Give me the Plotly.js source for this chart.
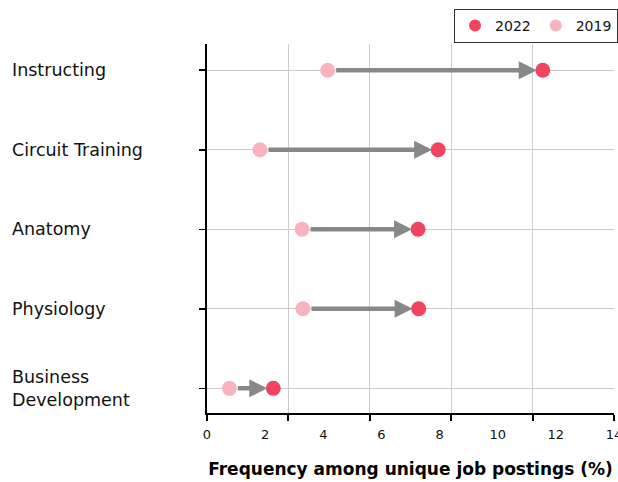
<!DOCTYPE html>
<html>
<head>
<meta charset="utf-8">
<script src="https://cdn.plot.ly/plotly-3.0.1.min.js"></script>
<style>
  html, body { margin: 0; padding: 0; background: #fff; }
  #chart { width: 618px; height: 482px; }
</style>
</head>
<body>
<div id="chart"></div>
<script>
// skills, bottom to top
const skills = ["Business<br>Development", "Physiology", "Anatomy", "Circuit Training", "Instructing"];
const freq2019 = [0.77, 3.30, 3.27, 1.82, 4.15];
const freq2022 = [2.28, 7.28, 7.26, 7.95, 11.55];

// the original draws grid/ticks at 5 even steps but labels 0..14 every 2
const gridVals = [0, 2.8, 5.6, 8.4, 11.2, 14];
const labelVals = [0, 2, 4, 6, 8, 10, 12, 14];

const FONT = 'DejaVu Sans, sans-serif';
const C2022 = '#f2445f';
const C2019 = '#f8b4be';

const trace2022 = {
  x: freq2022, y: skills, name: '2022',
  type: 'scatter', mode: 'markers',
  marker: { color: C2022, size: 15 },
  hoverinfo: 'skip'
};
const trace2019 = {
  x: freq2019, y: skills, name: '2019',
  type: 'scatter', mode: 'markers',
  marker: { color: C2019, size: 15 },
  hoverinfo: 'skip'
};
// invisible trace just to bring up the label axis
const traceLabels = {
  x: labelVals, y: labelVals.map(() => skills[0]), xaxis: 'x2',
  type: 'scatter', mode: 'markers', marker: { opacity: 0 },
  showlegend: false, hoverinfo: 'skip'
};

// arrows 2019 -> 2022
const arrows = skills.map((s, i) => ({
  x: freq2022[i], y: s, ax: freq2019[i], ay: s,
  xref: 'x', yref: 'y', axref: 'x', ayref: 'y',
  text: '', showarrow: true,
  arrowhead: 2, arrowsize: 0.8, arrowwidth: 4.5, arrowcolor: '#888888',
  standoff: 6, startstandoff: 7
}));

// left aligned category labels
const catLabels = skills.map(s => ({
  x: -0.484, y: s, xref: 'paper', yref: 'y',
  text: s, showarrow: false, xanchor: 'left', yanchor: 'middle', align: 'left',
  font: { family: FONT, size: 17.5, color: '#111' }
}));

Plotly.newPlot('chart', [trace2022, trace2019, traceLabels], {
  width: 618, height: 482,
  margin: { l: 207, r: 4, t: 44, b: 69, autoexpand: false },
  paper_bgcolor: '#fff', plot_bgcolor: '#fff',
  font: { family: FONT, size: 13, color: '#111' },
  showlegend: true,
  legend: {
    orientation: 'h', x: 1.01, xanchor: 'right', y: 1.095, yanchor: 'top',
    bordercolor: '#333', borderwidth: 1, font: { family: FONT, size: 14, color: '#111' },
    itemsizing: 'constant'
  },
  xaxis: {
    range: [0, 14], tickvals: gridVals, showticklabels: false, automargin: false,
    showgrid: true, gridcolor: '#cccccc', gridwidth: 1, zeroline: false,
    showline: true, linecolor: '#000', linewidth: 2,
    ticks: 'outside', ticklen: 6, tickwidth: 2, tickcolor: '#000'
  },
  xaxis2: {
    overlaying: 'x', anchor: 'y', side: 'bottom', automargin: false,
    range: [0, 14], tickvals: labelVals, ticktext: labelVals.map(String),
    ticklabeloverflow: 'allow',
    showgrid: false, zeroline: false, showline: false,
    ticks: 'outside', ticklen: 9, tickcolor: 'rgba(0,0,0,0)',
    tickfont: { family: FONT, size: 13, color: '#111' },
    title: { text: '<b>Frequency among unique job postings (%)</b>', standoff: 22,
             font: { family: FONT, size: 17, color: '#000' } }
  },
  yaxis: {
    type: 'category', categoryorder: 'array', categoryarray: skills,
    range: [-0.31, 4.33], showticklabels: false, automargin: false,
    showgrid: true, gridcolor: '#cccccc', gridwidth: 1, zeroline: false,
    showline: true, linecolor: '#000', linewidth: 2,
    ticks: 'outside', ticklen: 6, tickwidth: 1.5, tickcolor: '#000'
  },
  annotations: arrows.concat(catLabels)
}, { displayModeBar: false, staticPlot: true });
</script>
</body>
</html>
